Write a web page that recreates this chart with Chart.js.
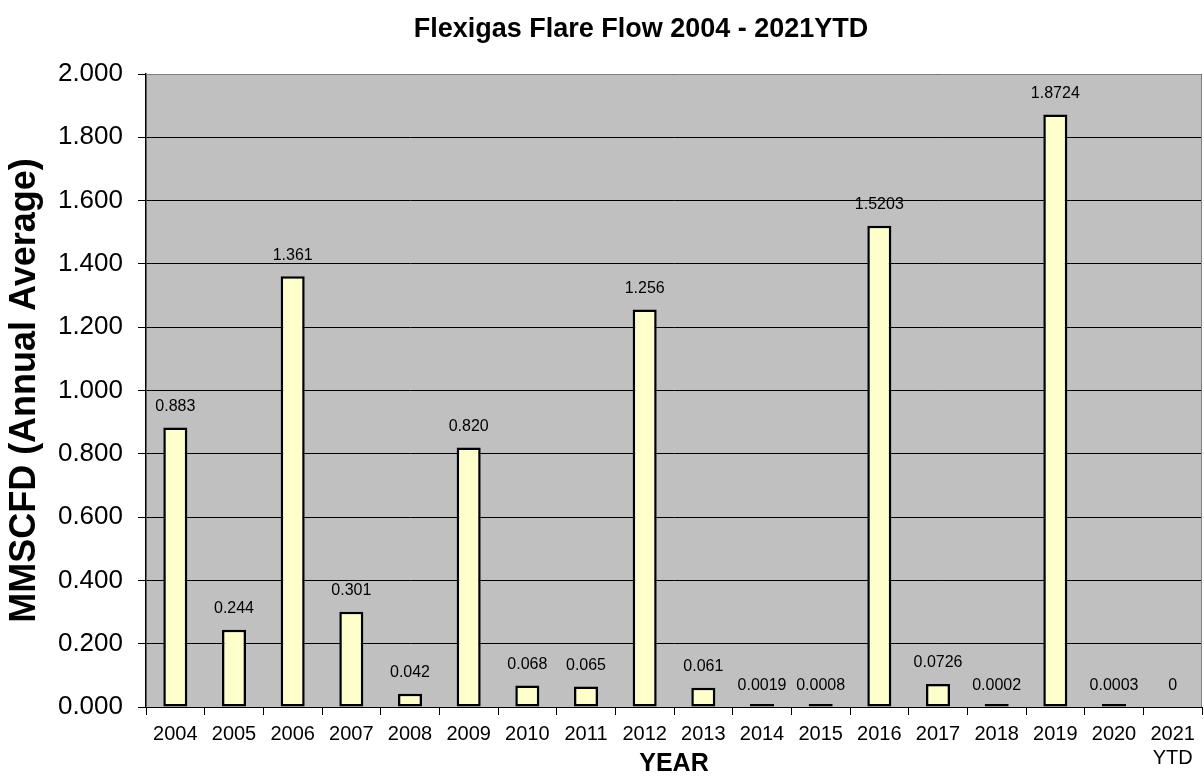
<!DOCTYPE html>
<html>
<head>
<meta charset="utf-8">
<script src="https://cdn.jsdelivr.net/npm/chart.js@4"></script>
<style>
  html, body { margin: 0; padding: 0; background: #fff; }
  #wrap { width: 1204px; height: 776px; }
</style>
</head>
<body>
<div id="wrap"><canvas id="chart" width="1204" height="776"></canvas></div>
<script>
const chartTitle = "Flexigas Flare Flow 2004 - 2021YTD";
const years = ["2004", "2005", "2006", "2007", "2008", "2009", "2010", "2011", "2012",
  "2013", "2014", "2015", "2016", "2017", "2018", "2019", "2020", ["2021", "YTD"]];
const flow = [0.883, 0.244, 1.361, 0.301, 0.042, 0.820, 0.068, 0.065, 1.256,
  0.061, 0.0019, 0.0008, 1.5203, 0.0726, 0.0002, 1.8724, 0.0003, 0];
const flowLabels = ["0.883", "0.244", "1.361", "0.301", "0.042", "0.820", "0.068", "0.065", "1.256",
  "0.061", "0.0019", "0.0008", "1.5203", "0.0726", "0.0002", "1.8724", "0.0003", "0"];

const font = "'Liberation Sans', Arial, sans-serif";

// grey plot area with a thin border, plus the title (sits off-centre like the original)
const plotBg = {
  id: 'plotBg',
  beforeDraw(chart) {
    const { ctx, chartArea: a } = chart;
    ctx.save();
    ctx.fillStyle = '#c0c0c0';
    ctx.fillRect(a.left, a.top, a.right - a.left, a.bottom - a.top);
    ctx.restore();
  },
  afterDraw(chart) {
    const { ctx, chartArea: a } = chart;
    ctx.save();
    ctx.strokeStyle = '#808080';
    ctx.lineWidth = 1;
    ctx.beginPath();
    ctx.moveTo(a.left, a.top + 0.5);
    ctx.lineTo(a.right - 0.5, a.top + 0.5);
    ctx.lineTo(a.right - 0.5, a.bottom);
    ctx.stroke();

    ctx.font = 'bold 27px ' + font;
    ctx.fillStyle = '#000';
    ctx.textAlign = 'center';
    ctx.textBaseline = 'middle';
    ctx.fillText(chartTitle, 641, 30);
    ctx.restore();
  }
};

// value labels over the bars
const valueLabels = {
  id: 'valueLabels',
  afterDatasetsDraw(chart) {
    const { ctx } = chart;
    const meta = chart.getDatasetMeta(0);
    const y = chart.scales.y;
    ctx.save();
    ctx.font = '16px ' + font;
    ctx.fillStyle = '#000';
    ctx.textAlign = 'center';
    ctx.textBaseline = 'middle';
    meta.data.forEach((bar, i) => {
      ctx.fillText(flowLabels[i], bar.x, y.getPixelForValue(flow[i]) - 21);
    });
    ctx.restore();
  }
};

new Chart("chart", {
  type: "bar",
  data: {
    labels: years,
    datasets: [{
      data: flow,
      backgroundColor: ctx => ctx.raw === 0 ? 'rgba(0,0,0,0)' : '#ffffcc',
      borderColor: '#000',
      borderWidth: ctx => ctx.raw === 0 ? 0 : 2.5,
      borderSkipped: false,
      minBarLength: 3,
      barPercentage: 0.41,
      categoryPercentage: 1
    }]
  },
  options: {
    responsive: false,
    animation: false,
    layout: { padding: { top: 74, right: 2, bottom: 0, left: 0 } },
    plugins: {
      legend: { display: false },
      tooltip: { enabled: false },
      title: { display: false }
    },
    scales: {
      x: {
        afterFit: s => { s.height = 69; },
        grid: {
          offset: true,
          drawOnChartArea: false,
          drawTicks: true,
          tickLength: 8,
          color: '#000'
        },
        border: { color: '#000', width: 1 },
        ticks: {
          color: '#000',
          font: { size: 20, family: font },
          maxRotation: 0,
          autoSkip: false,
          padding: 7
        },
        title: {
          display: true,
          text: "YEAR",
          color: '#000',
          font: { size: 25, weight: 'bold', family: font },
          padding: { top: 0, bottom: -3 }
        }
      },
      y: {
        min: 0,
        max: 2,
        afterFit: s => { s.width = 146; },
        grid: {
          color: '#000',
          lineWidth: 1,
          tickLength: 8
        },
        border: { color: '#000', width: 1.5 },
        ticks: {
          stepSize: 0.2,
          color: '#000',
          font: { size: 26, family: font },
          padding: 15,
          callback: val => val.toFixed(3)
        },
        title: {
          display: true,
          text: "MMSCFD (Annual Average)",
          color: '#000',
          font: { size: 36, weight: 'bold', family: font },
          padding: { top: 3, bottom: 0 }
        }
      }
    }
  },
  plugins: [plotBg, valueLabels]
});
</script>
</body>
</html>
